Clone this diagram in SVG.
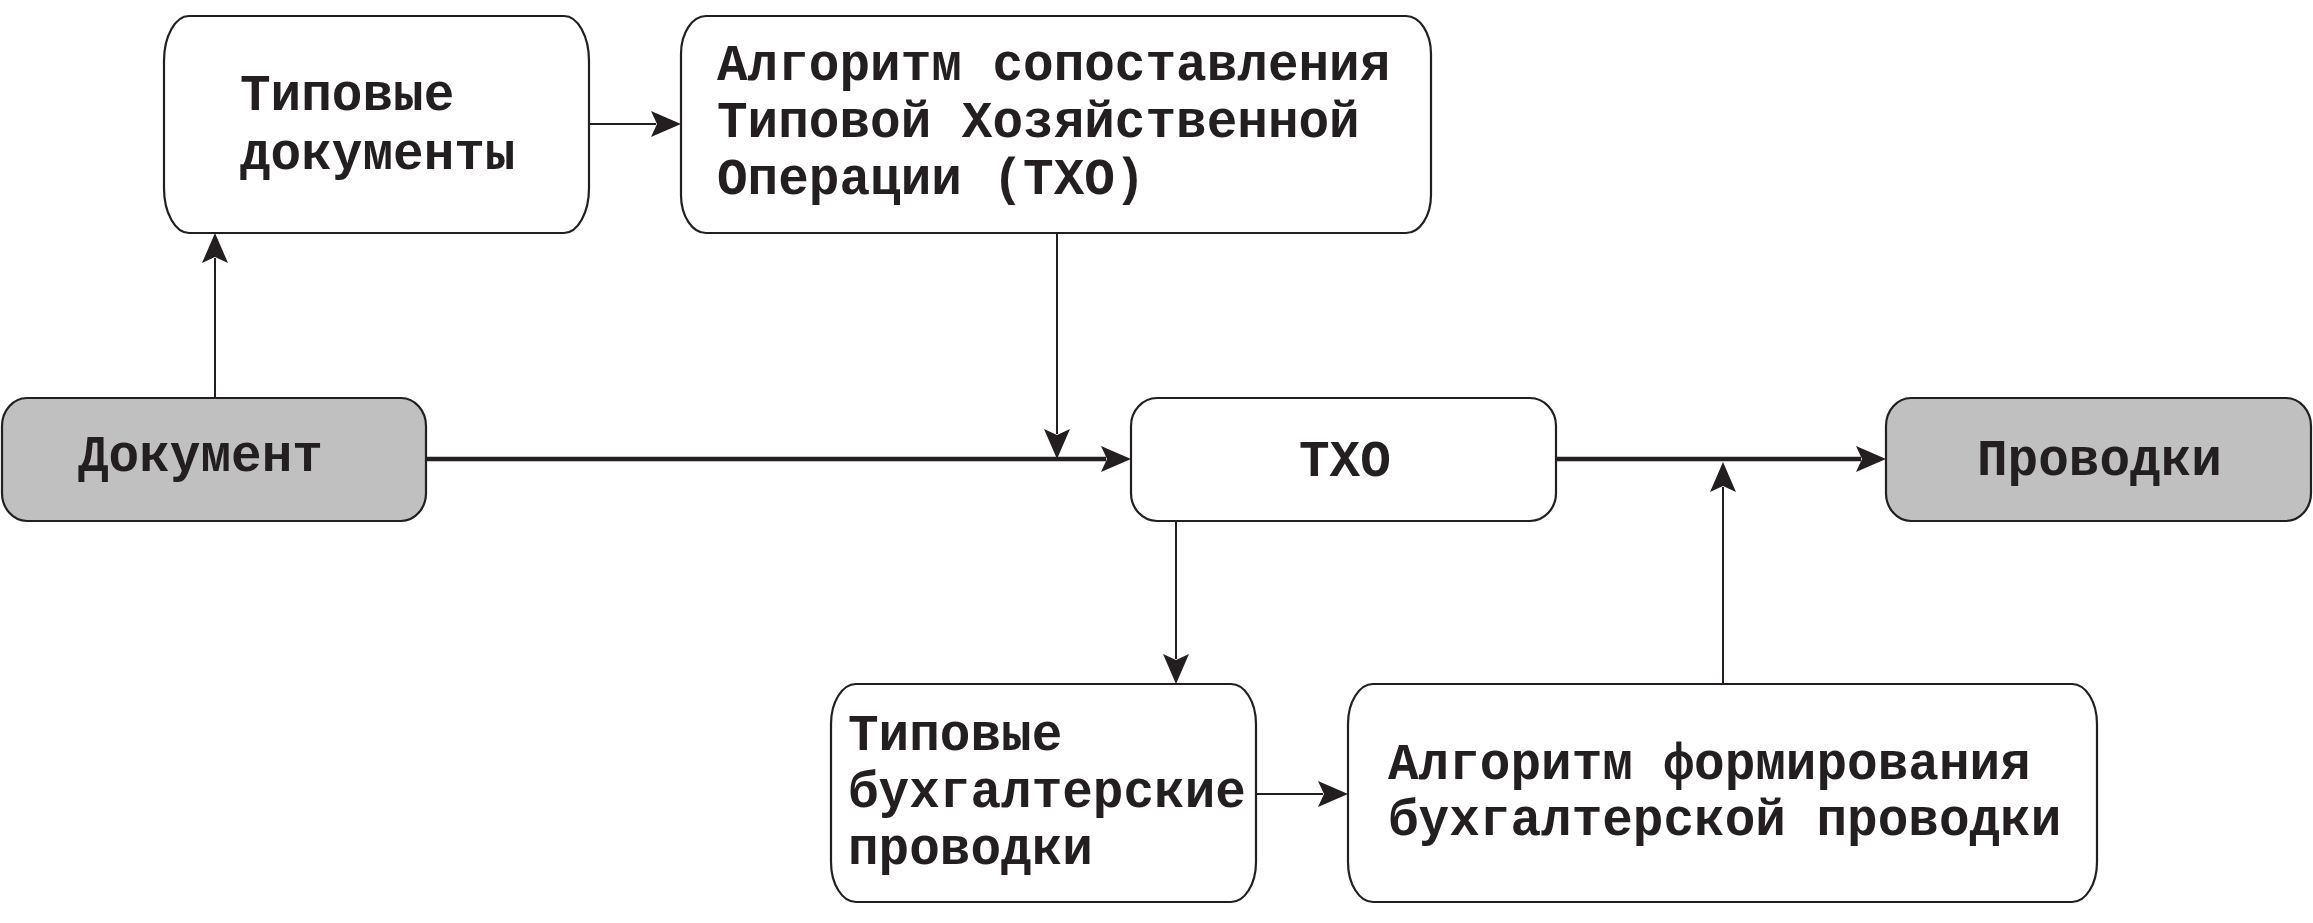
<svg xmlns="http://www.w3.org/2000/svg" width="2313" height="923" viewBox="0 0 2313 923">
<style>
.box{fill:#ffffff;stroke:#231f20;stroke-width:2.2}
.gray{fill:#c0c0c0;stroke:#231f20;stroke-width:2.2}
.t{font-family:"Liberation Mono","Courier New",monospace;font-weight:bold;font-size:51px;fill:#231f20}
.thin{fill:none;stroke:#231f20;stroke-width:2}
.thick{fill:none;stroke:#231f20;stroke-width:4.5}
</style>
<defs>
<marker id="ah" viewBox="0 0 30 26" refX="5" refY="13" markerWidth="30" markerHeight="26" markerUnits="userSpaceOnUse" orient="auto">
<path d="M0,0 L30,13 L0,26 L6,13 z" fill="#231f20"/>
</marker>
</defs>
<rect width="2313" height="923" fill="#ffffff"/>
<g id="connectors">
<line class="thin" x1="215" y1="398" x2="215" y2="258" marker-end="url(#ah)"/>
<line class="thin" x1="589" y1="124" x2="656" y2="124" marker-end="url(#ah)"/>
<line class="thin" x1="1057" y1="233" x2="1057" y2="434" marker-end="url(#ah)"/>
<line class="thick" x1="426" y1="459" x2="1106" y2="459" marker-end="url(#ah)"/>
<line class="thick" x1="1556" y1="459" x2="1861" y2="459" marker-end="url(#ah)"/>
<line class="thin" x1="1176" y1="521" x2="1176" y2="659" marker-end="url(#ah)"/>
<line class="thin" x1="1256" y1="794" x2="1323" y2="794" marker-end="url(#ah)"/>
<line class="thin" x1="1723" y1="684" x2="1723" y2="487" marker-end="url(#ah)"/>
</g>
<g id="n-tipdoc">
<rect class="box" x="164" y="16" width="425" height="217" rx="25" ry="45"/>
<text class="t" x="240" y="110">Типовые</text>
<text class="t" x="240" y="169">документы</text>
</g>
<g id="n-algo1">
<rect class="box" x="681" y="16" width="750" height="217" rx="25" ry="38"/>
<text class="t" x="717" y="80">Алгоритм сопоставления</text>
<text class="t" x="717" y="137">Типовой Хозяйственной</text>
<text class="t" x="717" y="194">Операции (ТХО)</text>
</g>
<g id="n-doc">
<rect class="gray" x="2" y="398" width="424" height="123" rx="25" ry="28"/>
<text class="t" x="78" y="471">Документ</text>
</g>
<g id="n-txo">
<rect class="box" x="1131" y="398" width="425" height="123" rx="26" ry="28"/>
<text class="t" x="1299" y="476">ТХО</text>
</g>
<g id="n-prov">
<rect class="gray" x="1886" y="398" width="425" height="123" rx="25" ry="28"/>
<text class="t" x="1977" y="475">Проводки</text>
</g>
<g id="n-tipbuh">
<rect class="box" x="831" y="684" width="425" height="218" rx="25" ry="40"/>
<text class="t" x="848" y="750">Типовые</text>
<text class="t" x="848" y="807">бухгалтерские</text>
<text class="t" x="848" y="864">проводки</text>
</g>
<g id="n-algo2">
<rect class="box" x="1348" y="684" width="749" height="218" rx="25" ry="40"/>
<text class="t" x="1388" y="779">Алгоритм формирования</text>
<text class="t" x="1388" y="835">бухгалтерской проводки</text>
</g>
</svg>
